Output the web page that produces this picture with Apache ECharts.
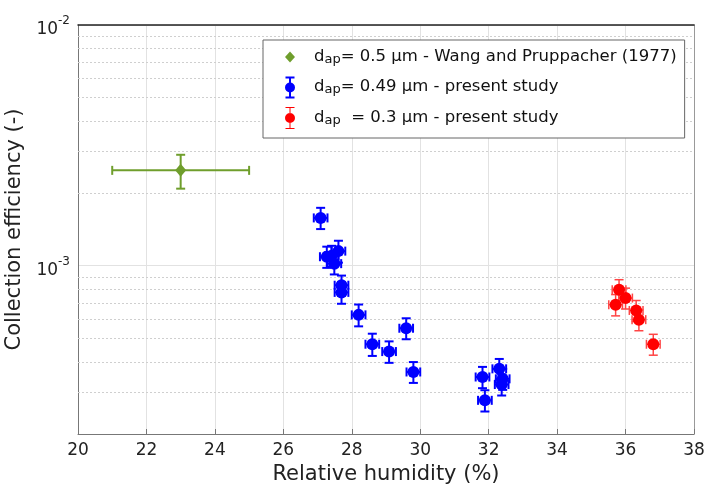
<!DOCTYPE html>
<html>
<head>
<meta charset="utf-8">
<script src="https://cdn.jsdelivr.net/npm/echarts@6/dist/echarts.min.js"></script>
<style>
  html, body { margin: 0; padding: 0; background: #fff; }
  #chart { width: 705px; height: 488px; }
</style>
</head>
<body>
<div id="chart"></div>
<script>
// Wang and Pruppacher (1977), d_ap = 0.5 um
const greenX = [23]
const greenY = [2.49e-3]
const greenXErr = [2]
const greenYErr = [4.0e-4]

// present study, d_ap = 0.49 um
const blueX = [27.09, 27.27, 27.41, 27.61, 27.49, 27.70, 27.70, 28.20, 28.60, 29.09, 29.59, 29.80, 31.82, 31.89, 32.31, 32.41, 32.38]
const blueY = [1.58e-3, 1.09e-3, 1.10e-3, 1.15e-3, 1.02e-3, 8.3e-4, 7.75e-4, 6.25e-4, 4.72e-4, 4.40e-4, 5.50e-4, 3.62e-4, 3.45e-4, 2.76e-4, 3.73e-4, 3.39e-4, 3.21e-4]
const blueXErr = [0.2, 0.2, 0.2, 0.2, 0.2, 0.2, 0.2, 0.2, 0.2, 0.2, 0.2, 0.2, 0.2, 0.2, 0.2, 0.2, 0.2]
const blueYErr = [1.6e-4, 1.1e-4, 1.1e-4, 1.2e-4, 1.0e-4, 8e-5, 8e-5, 6.5e-5, 5e-5, 4.5e-5, 5.5e-5, 3.6e-5, 3.5e-5, 2.8e-5, 3.7e-5, 3.4e-5, 3.2e-5]

// present study, d_ap = 0.3 um
const redX = [35.81, 35.71, 36.00, 36.31, 36.39, 36.81]
const redY = [7.95e-4, 6.89e-4, 7.34e-4, 6.52e-4, 5.97e-4, 4.72e-4]
const redXErr = [0.2, 0.2, 0.2, 0.2, 0.2, 0.2]
const redYErr = [8e-5, 7e-5, 7.3e-5, 6.5e-5, 6e-5, 4.7e-5]

// axes
const xMin = 20, xMax = 38, xStep = 2
const yMin = 2e-4, yMax = 1e-2
const yMinorGrid = [3e-4, 4e-4, 5e-4, 6e-4, 7e-4, 8e-4, 9e-4, 2e-3, 3e-3, 4e-3, 5e-3, 6e-3, 7e-3, 8e-3, 9e-3]

const legendLabels = {
  wang: '{d|d}{sub|ap}{t|= 0.5 µm - Wang and Pruppacher (1977)}',
  p049: '{d|d}{sub|ap}{t|= 0.49 µm - present study}',
  p03: '{d|d}{sub|ap}{t|  = 0.3 µm - present study}'
}

const FONT = 'DejaVu Sans'
const GREEN = '#6f9e2c'
const BLUE = '#0000ff'
const RED = '#ff0000'

const rows = (xs, ys, xe, ye) => xs.map((x, i) => [x, ys[i], xe[i], ye[i]])

function errorBars(color, width, cap) {
  return function (params, api) {
    const x = api.value(0), y = api.value(1), xe = api.value(2), ye = api.value(3)
    const l = api.coord([x - xe, y]), r = api.coord([x + xe, y])
    const t = api.coord([x, y + ye]), b = api.coord([x, y - ye])
    const st = { stroke: color, lineWidth: width, fill: null }
    const ln = (x1, y1, x2, y2) => ({ type: 'line', shape: { x1, y1, x2, y2 }, style: st })
    return {
      type: 'group',
      children: [
        ln(l[0], l[1], r[0], r[1]),
        ln(l[0], l[1] - cap, l[0], l[1] + cap),
        ln(r[0], r[1] - cap, r[0], r[1] + cap),
        ln(t[0], t[1], b[0], b[1]),
        ln(t[0] - cap, t[1], t[0] + cap, t[1]),
        ln(b[0] - cap, b[1], b[0] + cap, b[1])
      ]
    }
  }
}

// dotted minor grid line across the plot at a y value
function minorGrid(params, api) {
  const y = api.value(1)
  const a = api.coord([xMin, y]), b = api.coord([xMax, y])
  return {
    type: 'line',
    shape: { x1: a[0], y1: Math.round(a[1]) + 0.5, x2: b[0], y2: Math.round(b[1]) + 0.5 },
    style: { stroke: '#cfcfcf', lineWidth: 1, lineDash: [2, 2], fill: null }
  }
}

const iconDiamond = 'path://M0,0M30,24M15,6.5L20,12L15,17.5L10,12Z'
const iconErrBar = 'path://M0,0M30,24M10,12a5,5 0 1,1 10,0a5,5 0 1,1 -10,0ZM14,1h2v22h-2ZM10.5,1h9v2h-9ZM10.5,21h9v2h-9Z'
const iconErrBarThin = 'path://M0,0M30,24M10,12a5,5 0 1,1 10,0a5,5 0 1,1 -10,0ZM14.5,1h1v22h-1ZM10.5,1h9v1h-9ZM10.5,22h9v1h-9Z'

const chart = echarts.init(document.getElementById('chart'), null, { renderer: 'canvas', width: 705, height: 488 })

const option = {
  animation: false,
  backgroundColor: '#fff',
  grid: { left: 78, right: 11, top: 25, bottom: 54, containLabel: false, outerBoundsMode: 'none' },
  xAxis: [
    {
      type: 'value',
      min: xMin,
      max: xMax,
      interval: xStep,
      name: 'Relative humidity (%)',
      nameLocation: 'middle',
      nameGap: 26,
      nameTextStyle: { fontFamily: FONT, fontSize: 21, color: '#222' },
      axisLine: { lineStyle: { color: '#777', width: 1 } },
      axisTick: { inside: true, length: 5, lineStyle: { color: '#777' } },
      axisLabel: { fontFamily: FONT, fontSize: 17, color: '#222', margin: 8, showMinLabel: true, showMaxLabel: true },
      splitLine: { show: true, lineStyle: { color: '#e2e2e2', width: 1 } }
    },
    {
      type: 'value',
      position: 'top',
      min: xMin,
      max: xMax,
      interval: xStep,
      axisLine: { show: true, lineStyle: { color: '#222', width: 1.5 } },
      axisTick: { show: false },
      axisLabel: { show: false },
      splitLine: { show: false }
    }
  ],
  yAxis: [
    {
      type: 'log',
      logBase: 10,
      min: yMin,
      max: yMax,
      name: 'Collection efficiency (-)',
      nameLocation: 'middle',
      nameGap: 40,
      nameTextStyle: { fontFamily: FONT, fontSize: 21, color: '#222' },
      axisLine: { show: true, lineStyle: { color: '#777', width: 1 } },
      axisTick: { show: false },
      axisLabel: {
        margin: 8,
        showMinLabel: true,
        showMaxLabel: true,
        formatter: (v) => {
          const lg = Math.log10(v)
          const e = Math.round(lg)
          if (Math.abs(lg - e) > 1e-6) return ''
          return '{n|10}{s|' + e + '}'
        },
        rich: {
          n: { fontFamily: FONT, fontSize: 17, color: '#222', lineHeight: 20, padding: [6, 0, 0, 0], verticalAlign: 'top' },
          s: { fontFamily: FONT, fontSize: 12, color: '#222', lineHeight: 13, verticalAlign: 'top' }
        }
      },
      splitLine: { show: true, lineStyle: { color: '#e2e2e2', width: 1 } }
    },
    {
      type: 'log',
      logBase: 10,
      position: 'right',
      min: yMin,
      max: yMax,
      axisLine: { show: true, lineStyle: { color: '#999', width: 1 } },
      axisTick: { show: false },
      axisLabel: { show: false },
      splitLine: { show: false }
    }
  ],
  legend: {
    data: [
      { name: 'wang', icon: iconDiamond },
      { name: 'p049', icon: iconErrBar },
      { name: 'p03', icon: iconErrBarThin }
    ],
    orient: 'vertical',
    left: 263,
    top: 40,
    itemWidth: 30,
    itemHeight: 24,
    itemGap: 1.5,
    padding: [0, 8, 8, 12],
    backgroundColor: '#fff',
    borderColor: '#666',
    borderWidth: 1,
    borderRadius: 0,
    selectedMode: false,
    formatter: (name) => legendLabels[name],
    textStyle: {
      rich: {
        d: { fontFamily: FONT, fontSize: 16.5, color: '#111', lineHeight: 18, verticalAlign: 'top', padding: [0, 0, 0, 4] },
        t: { fontFamily: FONT, fontSize: 16.5, color: '#111', lineHeight: 18, verticalAlign: 'top' },
        sub: { fontFamily: FONT, fontSize: 13, color: '#111', lineHeight: 12, verticalAlign: 'bottom', padding: [13, 0, 0, 0] }
      }
    }
  },
  series: [
    {
      name: 'minor-grid',
      type: 'custom',
      z: 1,
      silent: true,
      renderItem: minorGrid,
      encode: { x: 0, y: 1 },
      data: yMinorGrid.map((v) => [xMin, v])
    },
    {
      name: 'wang-err',
      type: 'custom',
      z: 2,
      renderItem: errorBars(GREEN, 2, 4.5),
      encode: { x: 0, y: 1 },
      data: rows(greenX, greenY, greenXErr, greenYErr)
    },
    {
      name: 'p049-err',
      type: 'custom',
      z: 2,
      renderItem: errorBars(BLUE, 2, 4.5),
      encode: { x: 0, y: 1 },
      data: rows(blueX, blueY, blueXErr, blueYErr)
    },
    {
      name: 'p03-err',
      type: 'custom',
      z: 2,
      renderItem: errorBars('#ff4444', 1.5, 4.5),
      encode: { x: 0, y: 1 },
      data: rows(redX, redY, redXErr, redYErr)
    },
    {
      name: 'wang',
      type: 'scatter',
      z: 3,
      symbol: 'diamond',
      symbolSize: [11, 13],
      itemStyle: { color: GREEN, opacity: 1 },
      data: greenX.map((x, i) => [x, greenY[i]])
    },
    {
      name: 'p049',
      type: 'scatter',
      z: 3,
      symbol: 'circle',
      symbolSize: 12,
      itemStyle: { color: BLUE, opacity: 1 },
      data: blueX.map((x, i) => [x, blueY[i]])
    },
    {
      name: 'p03',
      type: 'scatter',
      z: 3,
      symbol: 'circle',
      symbolSize: 12,
      itemStyle: { color: RED, opacity: 1 },
      data: redX.map((x, i) => [x, redY[i]])
    }
  ]
}

chart.setOption(option)
</script>
</body>
</html>
